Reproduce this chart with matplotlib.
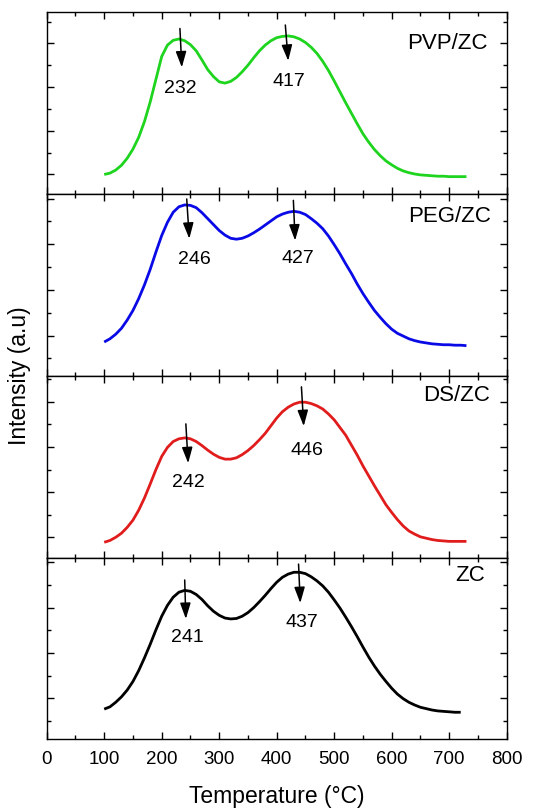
import matplotlib
matplotlib.use("Agg")
import matplotlib.pyplot as plt
from matplotlib.ticker import MultipleLocator

plt.rcParams['font.family'] = ['Liberation Sans', 'DejaVu Sans']

# ---- data ----
temp = list(range(100, 740, 10))  # 100 ... 730 °C

pvp_y = [1.00, 1.03, 1.10, 1.21, 1.37, 1.58, 1.85, 2.21, 2.66, 3.18,
         3.70, 3.96, 4.07, 4.10, 4.06, 3.97, 3.83, 3.62, 3.40, 3.24,
         3.12, 3.09, 3.13, 3.22, 3.35, 3.50, 3.67, 3.83, 3.96, 4.06,
         4.13, 4.16, 4.17, 4.15, 4.10, 4.02, 3.91, 3.77, 3.59, 3.38,
         3.14, 2.89, 2.64, 2.40, 2.16, 1.93, 1.74, 1.57, 1.43, 1.31,
         1.22, 1.14, 1.08, 1.04, 1.01, 0.99, 0.98, 0.97, 0.96, 0.96,
         0.95, 0.95, 0.95, 0.95]

peg_y = [0.86, 0.93, 1.03, 1.16, 1.34, 1.55, 1.81, 2.11, 2.45, 2.83,
         3.19, 3.48, 3.70, 3.82, 3.86, 3.85, 3.80, 3.69, 3.56, 3.43,
         3.30, 3.20, 3.13, 3.11, 3.13, 3.18, 3.25, 3.33, 3.42, 3.51,
         3.60, 3.66, 3.70, 3.72, 3.70, 3.65, 3.56, 3.46, 3.34, 3.18,
         2.99, 2.79, 2.57, 2.36, 2.13, 1.92, 1.73, 1.55, 1.40, 1.26,
         1.14, 1.05, 0.99, 0.93, 0.89, 0.86, 0.84, 0.82, 0.81, 0.80,
         0.80, 0.79, 0.79, 0.78]

ds_y = [0.89, 0.93, 1.00, 1.09, 1.22, 1.38, 1.60, 1.87, 2.18, 2.50,
        2.79, 2.99, 3.12, 3.18, 3.20, 3.18, 3.12, 3.03, 2.93, 2.84,
        2.77, 2.73, 2.73, 2.76, 2.83, 2.92, 3.03, 3.16, 3.30, 3.47,
        3.64, 3.78, 3.88, 3.95, 3.99, 3.99, 3.96, 3.91, 3.84, 3.73,
        3.60, 3.43, 3.26, 3.04, 2.82, 2.58, 2.36, 2.14, 1.93, 1.72,
        1.55, 1.39, 1.25, 1.14, 1.07, 1.01, 0.98, 0.95, 0.93, 0.92,
        0.91, 0.91, 0.91, 0.91]

temp_zc = list(range(100, 730, 10))  # 100 ... 720 °C
zc_y = [0.76, 0.81, 0.91, 1.03, 1.18, 1.37, 1.61, 1.89, 2.19, 2.51,
        2.81, 3.05, 3.23, 3.34, 3.38, 3.36, 3.29, 3.18, 3.04, 2.92,
        2.83, 2.77, 2.75, 2.76, 2.81, 2.89, 3.00, 3.13, 3.27, 3.42,
        3.56, 3.67, 3.74, 3.78, 3.78, 3.75, 3.68, 3.59, 3.48, 3.34,
        3.17, 2.99, 2.79, 2.58, 2.36, 2.13, 1.91, 1.71, 1.53, 1.37,
        1.22, 1.09, 0.99, 0.91, 0.85, 0.80, 0.77, 0.74, 0.72, 0.71,
        0.70, 0.69, 0.69]

sample_names = ["PVP/ZC", "PEG/ZC", "DS/ZC", "ZC"]
peak_labels = [["232", "417"], ["246", "427"], ["242", "446"], ["241", "437"]]
x_label = "Temperature (\u00b0C)"
y_label = "Intensity (a.u)"

# ---- layout / style ----
W, H = 542, 812
fig = plt.figure(figsize=(W / 100, H / 100), dpi=100)
left, right = 46.7, 506.7
panel_px = [(13.3, 194.5), (194.5, 377.0), (377.0, 558.5), (558.5, 740.0)]
ylims = [(0.564, 4.711), (0.116, 4.11), (0.553, 4.57), (0.10, 4.106)]
colors = ["#1ed41e", "#0a0ae6", "#e01c1c", "#000000"]
series = [(temp, pvp_y), (temp, peg_y), (temp, ds_y), (temp_zc, zc_y)]

# annotation placement: (arrow top xy, arrow tip xy, text xy) per peak
ann = [
    [((231.7, 4.34), (235, 3.45), (233, 3.0)), ((415, 4.42), (420, 3.60), (421, 3.16))],
    [((243.5, 3.99), (248, 3.12), (256, 2.68)), ((429, 3.96), (432, 3.08), (436, 2.71))],
    [((242, 3.51), (246, 2.64), (246, 2.24)), ((443, 4.33), (447, 3.46), (452, 2.94))],
    [((240, 3.61), (242, 2.75), (245, 2.36)), ((438, 3.96), (441, 3.10), (444, 2.69))],
]
name_pos = [(767, 4.03), (773, 3.63), (771, 4.17), (762, 3.72)]

for i in range(4):
    top, bot = panel_px[i]
    ax = fig.add_axes([left / W, 1 - bot / H, (right - left) / W, (bot - top) / H])
    x, y = series[i]
    ax.plot(x, y, color=colors[i], lw=2.0, solid_joinstyle='round', solid_capstyle='butt')
    ax.set_xlim(0, 800)
    ax.set_ylim(*ylims[i])
    ax.xaxis.set_major_locator(MultipleLocator(100))
    ax.xaxis.set_minor_locator(MultipleLocator(50))
    ax.yaxis.set_major_locator(MultipleLocator(1))
    ax.yaxis.set_minor_locator(MultipleLocator(0.5))
    ax.tick_params(which='both', direction='in', top=True, right=True, width=1.0)
    ax.tick_params(which='major', length=5)
    ax.tick_params(which='minor', length=2.8)
    ax.set_yticklabels([])
    for s in ax.spines.values():
        s.set_linewidth(1.0)
    if i < 3:
        ax.set_xticklabels([])
    else:
        ax.tick_params(axis='x', labelsize=13.5, pad=8)
        ax.set_xlabel(x_label, fontsize=16.5, labelpad=12)
    for k in range(2):
        (x0, y0), (x1, y1), (tx, ty) = ann[i][k]
        ax.annotate("", xy=(x1, y1), xytext=(x0, y0),
                    arrowprops=dict(arrowstyle='-|>,head_length=0.6,head_width=0.2',
                                    color='black', lw=1.1, shrinkA=0, shrinkB=0, mutation_scale=16))
        ax.text(tx, ty, peak_labels[i][k], fontsize=14, ha='center', va='center')
    nx, ny = name_pos[i]
    ax.text(nx, ny, sample_names[i], fontsize=16, ha='right', va='center')

fig.text(20 / W, 1 - 376 / H, y_label, rotation=90, fontsize=16.5, ha='center', va='center')

fig.savefig("out.png", dpi=100)
